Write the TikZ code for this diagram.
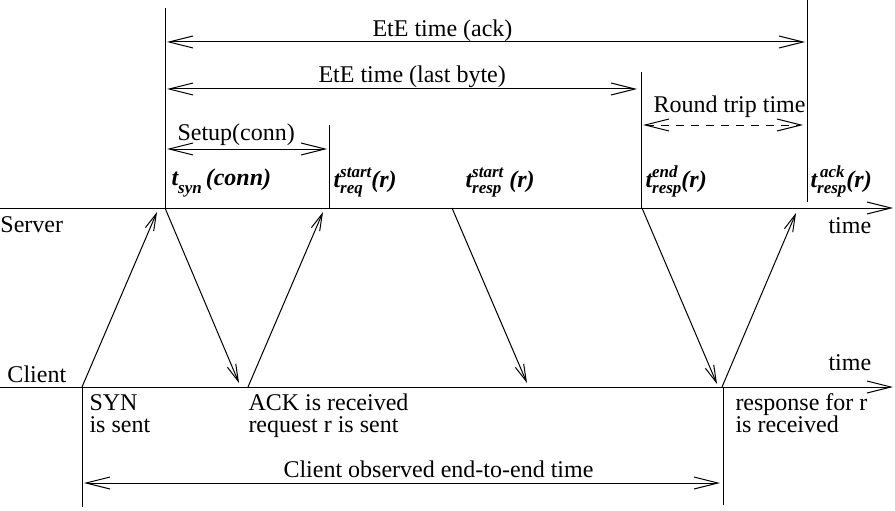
\documentclass[tikz,border=0pt]{standalone}
\usepackage{fontspec}
\setmainfont{Liberation Serif}
\usetikzlibrary{arrows.meta}
\newdimen\tlw
\newcommand\scr{\fontsize{17}{17}\selectfont}
% #1 sub, #2 sup, #3 rest, #4 sub drop
\newcommand\tsc[4]{%
 t\setbox0\hbox{\scr #2}\setbox2\hbox{\scr #1}%
 \ifdim\wd0>\wd2 \tlw=\wd0 \else \tlw=\wd2 \fi
 \rlap{\raise9.5pt\box0}\hbox to \tlw{\lower#4\box2\hss}#3}
\begin{document}
\begin{tikzpicture}[x=1pt,y=-1pt, line width=1pt,
 txt/.style={inner sep=0pt, font=\fontsize{24}{26}\selectfont, anchor=base west},
 tlab/.style={inner sep=0pt, font=\fontsize{24}{26}\selectfont\bfseries\itshape, anchor=base west},
 dim/.style={{Straight Barb[length=24pt,width=12pt]}-{Straight Barb[length=24pt,width=12pt]}},
 axis/.style={-{Straight Barb[length=24pt,width=12pt]}},
 msg/.style={-{Straight Barb[length=17pt,width=9pt]}},
 ]
\useasboundingbox (0,0) rectangle (895,511);
% coordinates
\coordinate (sL) at (0,208); \coordinate (sR) at (893,208);
\coordinate (cL) at (0,387); \coordinate (cR) at (893,387);
\coordinate (v1t) at (165,8);   \coordinate (v1b) at (165,208);
\coordinate (v2t) at (329,125); \coordinate (v2b) at (329,208);
\coordinate (v3t) at (641,72);  \coordinate (v3b) at (641,208);
\coordinate (v4t) at (807,0);   \coordinate (v4b) at (807,202);
\coordinate (v5t) at (82,387);  \coordinate (v5b) at (82,507);
\coordinate (v6t) at (723,387); \coordinate (v6b) at (723,505);
\coordinate (ackL) at (167,42);  \coordinate (ackR) at (805,42);
\coordinate (lbL) at (167,89);   \coordinate (lbR) at (637,89);
\coordinate (rtL) at (643,125);  \coordinate (rtR) at (803,125);
\coordinate (suL) at (167,149);  \coordinate (suR) at (327,149);
\coordinate (ceL) at (84,483);   \coordinate (ceR) at (720,483);
\coordinate (m1a) at (82,387);  \coordinate (m1b) at (157,212);
\coordinate (m2a) at (165,208); \coordinate (m2b) at (239,383);
\coordinate (m3a) at (248,387); \coordinate (m3b) at (323,212);
\coordinate (m4a) at (452,208); \coordinate (m4b) at (527,383);
\coordinate (m5a) at (642,208); \coordinate (m5b) at (717,384);
\coordinate (m6a) at (722,387); \coordinate (m6b) at (796,213);
% axes
\draw[axis] (sL) -- (sR);
\draw[axis] (cL) -- (cR);
% verticals
\draw (v1t) -- (v1b);
\draw (v2t) -- (v2b);
\draw (v3t) -- (v3b);
\draw (v4t) -- (v4b);
\draw (v5t) -- (v5b);
\draw (v6t) -- (v6b);
% dimension arrows
\draw[dim] (ackL) -- (ackR);
\draw[dim] (lbL) -- (lbR);
\draw[dim, dash pattern=on 8pt off 7pt] (rtL) -- (rtR);
\draw[dim] (suL) -- (suR);
\draw[dim] (ceL) -- (ceR);
% messages
\draw[msg] (m1a) -- (m1b);
\draw[msg] (m2a) -- (m2b);
\draw[msg] (m3a) -- (m3b);
\draw[msg] (m4a) -- (m4b);
\draw[msg] (m5a) -- (m5b);
\draw[msg] (m6a) -- (m6b);
% labels
\node[txt] (lack) at (372,37) {EtE time (ack)};
\node[txt] (llb) at (318,83) {EtE time (last byte)};
\node[txt] (lrt) at (653,113) {Round trip time};
\node[txt] (lsu) at (177,140) {Setup(conn)};
\node[txt] (lce) at (283,477) {Client observed end-to-end time};
\node[txt] (lsrv) at (0,232) {Server};
\node[txt] (lcli) at (7,382) {Client};
\node[txt] (ltime1) at (828,233) {time};
\node[txt] (ltime2) at (828,370) {time};
\node[txt] (lsyn1) at (89,410) {SYN};
\node[txt] (lsyn2) at (89,432) {is sent};
\node[txt] (lack1) at (248,410) {ACK is received};
\node[txt] (lack2) at (248,432) {request r is sent};
\node[txt] (lres1) at (735,410) {response for r};
\node[txt] (lres2) at (735,432) {is received};
% t labels
\node[tlab] (tsyn) at (171,185) {\tsc{syn}{}{\,(conn)}{9pt}};
\node[tlab] (treq) at (333,187) {\tsc{req}{start}{(r)}{6pt}};
\node[tlab] (trs) at (465,187) {\tsc{resp}{start}{\ (r)}{6pt}};
\node[tlab] (tre) at (645,187) {\tsc{resp}{end}{(r)}{6pt}};
\node[tlab] (tra) at (810,187) {\tsc{resp}{\,ack}{(r)}{6pt}};
\end{tikzpicture}
\end{document}
